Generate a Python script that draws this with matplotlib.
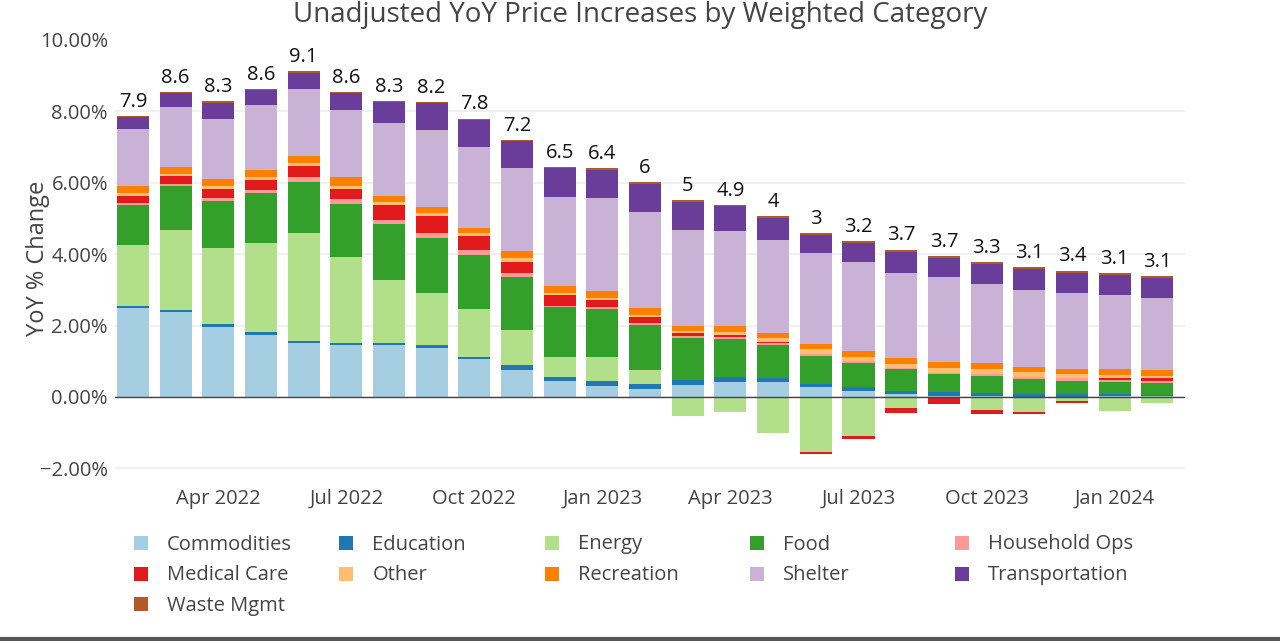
import numpy as np
import pandas as pd
import matplotlib
matplotlib.use("Agg")
import matplotlib.pyplot as plt
from matplotlib.patches import Rectangle
from matplotlib.lines import Line2D
from matplotlib.ticker import FuncFormatter

plt.rcParams['font.family'] = ['Open Sans', 'DejaVu Sans']

# months Feb 2022 .. Feb 2024
months = pd.date_range('2022-02-01', periods=25, freq='MS')

# headline YoY labels above bars
headline = [7.9, 8.6, 8.3, 8.6, 9.1, 8.6, 8.3, 8.2, 7.8, 7.2, 6.5, 6.4, 6,
            5, 4.9, 4, 3, 3.2, 3.7, 3.7, 3.3, 3.1, 3.4, 3.1, 3.1]

# weighted contributions (percentage points)
commodities = [2.48, 2.38, 1.96, 1.73, 1.50, 1.45, 1.45, 1.38, 1.06, 0.76, 0.45, 0.31, 0.22,
               0.34, 0.43, 0.41, 0.27, 0.16, 0.07, 0.04, 0.02, 0.01, 0.01, 0.02, 0.02]
education = [0.07, 0.07, 0.09, 0.09, 0.07, 0.06, 0.07, 0.07, 0.07, 0.13, 0.12, 0.14, 0.15,
             0.14, 0.14, 0.12, 0.09, 0.11, 0.09, 0.09, 0.09, 0.07, 0.06, 0.07, 0.04]
energy = [1.70, 2.22, 2.13, 2.48, 3.01, 2.41, 1.76, 1.45, 1.33, 0.99, 0.56, 0.66, 0.39,
          -0.53, -0.43, -1.00, -1.54, -1.10, -0.30, 0.00, -0.37, -0.41, -0.12, -0.38, -0.18]
food = [1.12, 1.23, 1.31, 1.40, 1.45, 1.49, 1.57, 1.56, 1.52, 1.48, 1.38, 1.35, 1.26,
        1.17, 1.05, 0.93, 0.78, 0.68, 0.61, 0.50, 0.47, 0.42, 0.39, 0.34, 0.34]
household_ops = [0.07, 0.07, 0.09, 0.09, 0.12, 0.14, 0.11, 0.14, 0.14, 0.11, 0.04, 0.06, 0.05,
                 0.05, 0.06, 0.05, 0.05, 0.05, 0.05, 0.05, 0.05, 0.05, 0.06, 0.05, 0.06]
medical_care = [0.19, 0.21, 0.25, 0.28, 0.32, 0.28, 0.43, 0.47, 0.39, 0.32, 0.30, 0.20, 0.17,
                0.09, 0.07, 0.02, -0.06, -0.09, -0.14, -0.21, -0.12, -0.08, -0.05, 0.06, 0.06]
other = [0.09, 0.08, 0.09, 0.09, 0.09, 0.09, 0.08, 0.09, 0.09, 0.09, 0.06, 0.06, 0.06,
         0.05, 0.08, 0.11, 0.14, 0.12, 0.11, 0.14, 0.14, 0.14, 0.11, 0.08, 0.07]
recreation = [0.19, 0.19, 0.19, 0.21, 0.20, 0.23, 0.17, 0.15, 0.14, 0.20, 0.19, 0.18, 0.19,
              0.16, 0.17, 0.15, 0.16, 0.18, 0.17, 0.17, 0.17, 0.14, 0.16, 0.17, 0.16]
shelter = [1.59, 1.68, 1.68, 1.80, 1.86, 1.88, 2.04, 2.17, 2.25, 2.34, 2.50, 2.60, 2.68,
           2.69, 2.64, 2.61, 2.55, 2.48, 2.38, 2.37, 2.23, 2.17, 2.13, 2.07, 2.01]
transportation = [0.34, 0.39, 0.45, 0.42, 0.46, 0.48, 0.58, 0.75, 0.77, 0.74, 0.81, 0.81, 0.80,
                  0.76, 0.70, 0.61, 0.51, 0.53, 0.58, 0.52, 0.56, 0.59, 0.56, 0.55, 0.56]
waste_mgmt = [0.04, 0.03, 0.04, 0.04, 0.04, 0.04, 0.04, 0.03, 0.04, 0.04, 0.04, 0.04, 0.05,
              0.06, 0.04, 0.05, 0.04, 0.06, 0.07, 0.06, 0.06, 0.06, 0.06, 0.06, 0.06]

categories = ['Commodities', 'Education', 'Energy', 'Food', 'Household Ops',
              'Medical Care', 'Other', 'Recreation', 'Shelter', 'Transportation',
              'Waste Mgmt']
series = [commodities, education, energy, food, household_ops, medical_care,
          other, recreation, shelter, transportation, waste_mgmt]
colors = ['#a6cee3', '#1f78b4', '#b2df8a', '#33a02c', '#fb9a99', '#e31a1c',
          '#fdbf6f', '#ff7f00', '#cab2d6', '#6a3d9a', '#b15928']

fig = plt.figure(figsize=(12.8, 6.41), dpi=100)
ax = fig.add_axes([0.0898, 0.2526, 0.836, 0.6878])

x = np.arange(len(months))
pos_base = np.zeros(len(x))
neg_base = np.zeros(len(x))
for vals, c in zip(series, colors):
    v = np.array(vals)
    pos = np.where(v > 0, v, 0)
    neg = np.where(v < 0, v, 0)
    ax.bar(x, pos, bottom=pos_base, width=0.75, color=c, linewidth=0, zorder=3)
    ax.bar(x, neg, bottom=neg_base, width=0.75, color=c, linewidth=0, zorder=3)
    pos_base += pos
    neg_base += neg

for xi, top, lab in zip(x, pos_base, headline):
    ax.annotate(f"{lab:g}", (xi, top), xytext=(0, 3), textcoords='offset points',
                ha='center', va='bottom', fontsize=14.5, color='#111')

ax.set_xlim(-0.42, 24.65)
ax.set_ylim(-2.3, 10.05)
ax.set_yticks([-2, 0, 2, 4, 6, 8, 10])
ax.yaxis.set_major_formatter(FuncFormatter(lambda v, p: f"{v:.2f}%".replace('-', '\u2212')))
tick_idx = [i for i, m in enumerate(months) if m.month in (1, 4, 7, 10)]
ax.set_xticks(tick_idx)
ax.set_xticklabels([months[i].strftime('%b %Y') for i in tick_idx])
ax.tick_params(length=0, labelsize=14.5, labelcolor='#444')
ax.tick_params(axis='x', pad=7)
ax.tick_params(axis='y', pad=5)
for s in ax.spines.values():
    s.set_visible(False)
ax.grid(axis='y', color='#eeeeee', linewidth=1.2, zorder=0)
ax.yaxis.get_major_ticks()[-1].gridline.set_visible(False)
ax.axhline(0, color='#444', linewidth=1, zorder=4)
ax.set_ylabel('YoY % Change', fontsize=17, color='#444')
ax.yaxis.set_label_coords(-0.061, 0.5)

fig.text(0.5, 1 - 22 / 641, 'Unadjusted YoY Price Increases by Weighted Category',
         ha='center', va='baseline', fontsize=20, color='#444')

# legend, row-major like the original
for i, (name, c) in enumerate(zip(categories, colors)):
    col, row = i % 5, i // 5
    mx = 141 + col * 205.3
    my = 543 + row * 30.5
    fig.add_artist(Rectangle(((mx - 7) / 1280, 1 - (my + 7) / 641), 14 / 1280, 14 / 641,
                             transform=fig.transFigure, color=c, linewidth=0))
    fig.text((mx + 26) / 1280, 1 - (my + 1.5) / 641, name, ha='left', va='center',
             fontsize=14.5, color='#444')

fig.add_artist(Line2D([0, 1], [0.003, 0.003], transform=fig.transFigure,
                      color='#555', linewidth=3))

fig.savefig('out.png', dpi=100)
